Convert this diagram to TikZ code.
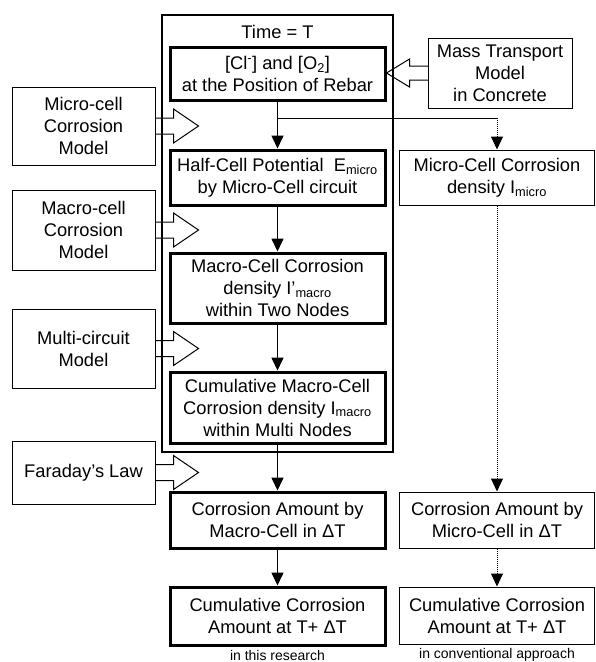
\documentclass[tikz,border=0pt]{standalone}
\usepackage{fontspec}
\setmainfont{Liberation Sans}
\usetikzlibrary{arrows.meta,calc}
\begin{document}
\begin{tikzpicture}[x=1pt,y=-1pt,
  txt/.style={align=center,inner sep=0pt,font=\fontsize{18.3}{22}\selectfont},
  thickbox/.style={txt,draw,line width=3pt},
  thinbox/.style={txt,draw,line width=1pt},
  frame/.style={draw,line width=1.2pt,inner sep=0pt},
  conn/.style={line width=1.6pt,-{Triangle[length=13pt,width=12pt]}},
  dotconn/.style={line width=1pt,dash pattern=on 1pt off 1pt,-{Triangle[length=13pt,width=12pt]}},
  branch/.style={line width=1pt},
  hollow/.style={draw,line width=1pt},
  small/.style={inner sep=0pt,font=\fontsize{14}{16}\selectfont}
]
\useasboundingbox (0,0) rectangle (595,662);

% frame
\node[frame,minimum width=231pt,minimum height=437pt] (frame) at (277.5,233.5) {};
\node[txt] (time) at (277.5,32) {Time = T};

% main column
\node[thickbox,minimum width=215pt,minimum height=53pt] (b1) at (277.5,73.5)
  {[Cl\textsuperscript{-}] and [O\textsubscript{2}]\\at the Position of Rebar};
\node[thickbox,minimum width=215pt,minimum height=55pt] (b2) at (277.5,177.5)
  {Half-Cell Potential\ \ E\textsubscript{micro}\\by Micro-Cell circuit};
\node[thickbox,minimum width=215pt,minimum height=70pt] (b3) at (277.5,288)
  {Macro-Cell Corrosion\\density I’\textsubscript{macro}\\within Two Nodes};
\node[thickbox,minimum width=215pt,minimum height=71pt] (b4) at (277.5,407.5)
  {Cumulative Macro-Cell\\Corrosion density I\textsubscript{macro}\\within Multi Nodes};
\node[thickbox,minimum width=215pt,minimum height=56pt] (b5) at (277.5,520)
  {Corrosion Amount by\\Macro-Cell in ΔT};
\node[thickbox,minimum width=215pt,minimum height=58pt] (b6) at (277.5,616)
  {Cumulative Corrosion\\Amount at T+ ΔT};

% right column
\node[thinbox,minimum width=195pt,minimum height=55pt] (r1) at (497,177.5)
  {Micro-Cell Corrosion\\density I\textsubscript{micro}};
\node[thinbox,minimum width=195pt,minimum height=56pt] (r2) at (497,520)
  {Corrosion Amount by\\Micro-Cell in ΔT};
\node[thinbox,minimum width=195pt,minimum height=57pt] (r3) at (497,615.5)
  {Cumulative Corrosion\\Amount at T+ ΔT};

% input models
\node[thinbox,minimum width=144pt,minimum height=70pt] (mass) at (500,73)
  {Mass Transport\\Model\\in Concrete};
\node[thinbox,minimum width=143pt,minimum height=78pt] (L1) at (83.5,126)
  {Micro-cell\\Corrosion\\Model};
\node[thinbox,minimum width=143pt,minimum height=80pt] (L2) at (83.5,230)
  {Macro-cell\\Corrosion\\Model};
\node[thinbox,minimum width=143pt,minimum height=79pt] (L3) at (83.5,348.5)
  {Multi-circuit\\Model};
\node[thinbox,minimum width=143pt,minimum height=63pt] (L4) at (83.5,472.5)
  {Faraday’s Law};

% labels
\node[small] (lab1) at (277.5,655) {in this research};
\node[small] (lab2) at (497,655) {in conventional approach};

% connectors
\draw[conn] (b1) -- (b2);
\draw[conn] (b2) -- (b3);
\draw[conn] (b3) -- (b4);
\draw[conn] (b4) -- (b5);
\draw[conn] (b5) -- (b6);
\coordinate (br) at (277.5,118);
\draw[branch] (br) -- (br -| r1.north);
\draw[dotconn] (br -| r1.north) -- (r1.north);
\draw[dotconn] (r1) -- (r2);
\draw[dotconn] (r2) -- (r3);

% hollow arrows
\foreach \n in {L1,L2,L3,L4}{
  \draw[hollow] ($(\n.east)+(-0.5,-8)$) -- ++(18.5,0) -- ++(0,-9) -- ++(25,17) -- ++(-25,17) -- ++(0,-9) -- ++(-18.5,0);
}
\draw[hollow] ($(mass.west)+(0.5,-7)$) -- ++(-18.5,0) -- ++(0,-7) -- ++(-23,14) -- ++(23,14) -- ++(0,-7) -- ++(18.5,0);
\end{tikzpicture}
\end{document}
